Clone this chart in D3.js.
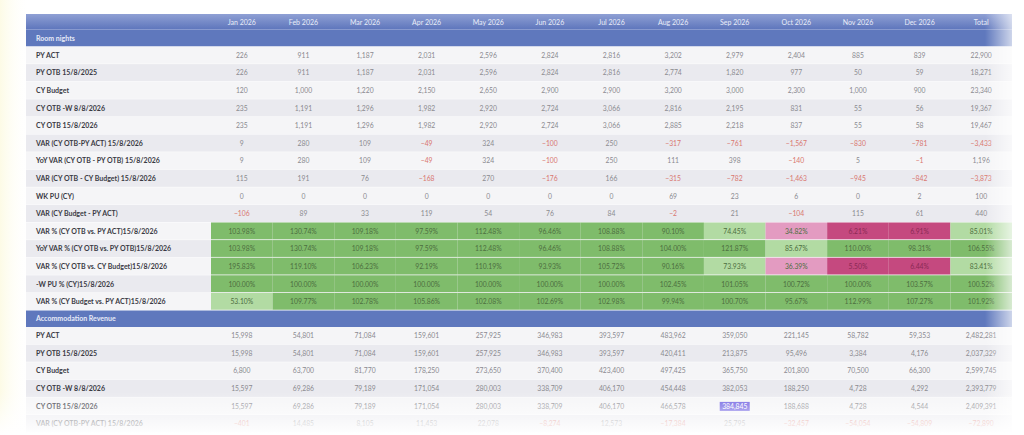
<!DOCTYPE html>
<html><head><meta charset="utf-8">
<script src="https://cdn.jsdelivr.net/npm/d3@7"></script>
<style>body{margin:0;background:#fff;}svg{display:block;font-family:Lato,"Noto Sans",sans-serif;}</style>
</head><body><svg id="c" width="1024" height="435"></svg>
<script>
const months = ["Jan 2026","Feb 2026","Mar 2026","Apr 2026","May 2026","Jun 2026","Jul 2026","Aug 2026","Sep 2026","Oct 2026","Nov 2026","Dec 2026","Total"];
const sections = ["Room nights","Accommodation Revenue"];
const roomLabels = ["PY ACT","PY OTB 15/8/2025","CY Budget","CY OTB -W 8/8/2026","CY OTB 15/8/2026","VAR (CY OTB-PY ACT) 15/8/2026","YoY VAR (CY OTB - PY OTB) 15/8/2026","VAR (CY OTB - CY Budget) 15/8/2026","WK PU (CY)","VAR (CY Budget - PY ACT)"];
const roomValues = [
 [226,911,1187,2031,2596,2824,2816,3202,2979,2404,885,839,22900],
 [226,911,1187,2031,2596,2824,2816,2774,1820,977,50,59,18271],
 [120,1000,1220,2150,2650,2900,2900,3200,3000,2300,1000,900,23340],
 [235,1191,1296,1982,2920,2724,3066,2816,2195,831,55,56,19367],
 [235,1191,1296,1982,2920,2724,3066,2885,2218,837,55,58,19467],
 [9,280,109,-49,324,-100,250,-317,-761,-1567,-830,-781,-3433],
 [9,280,109,-49,324,-100,250,111,398,-140,5,-1,1196],
 [115,191,76,-168,270,-176,166,-315,-782,-1463,-945,-842,-3873],
 [0,0,0,0,0,0,0,69,23,6,0,2,100],
 [-106,89,33,119,54,76,84,-2,21,-104,115,61,440]
];
const pctLabels = ["VAR % (CY OTB vs. PY ACT)15/8/2026","YoY VAR % (CY OTB vs. PY OTB)15/8/2026","VAR % (CY OTB vs. CY Budget)15/8/2026","-W PU % (CY)15/8/2026","VAR % (CY Budget vs. PY ACT)15/8/2026"];
const pctValues = [
 [103.98,130.74,109.18,97.59,112.48,96.46,108.88,90.10,74.45,34.82,6.21,6.91,85.01],
 [103.98,130.74,109.18,97.59,112.48,96.46,108.88,104.00,121.87,85.67,110.00,98.31,106.55],
 [195.83,119.10,106.23,92.19,110.19,93.93,105.72,90.16,73.93,36.39,5.50,6.44,83.41],
 [100,100,100,100,100,100,100,102.45,101.05,100.72,100,103.57,100.52],
 [53.10,109.77,102.78,105.86,102.08,102.69,102.98,99.94,100.70,95.67,112.99,107.27,101.92]
];
const revLabels = ["PY ACT","PY OTB 15/8/2025","CY Budget","CY OTB -W 8/8/2026","CY OTB 15/8/2026","VAR (CY OTB-PY ACT) 15/8/2026"];
const revValues = [
 [15998,54801,71084,159601,257925,346983,393597,483962,359050,221145,58782,59353,2482281],
 [15998,54801,71084,159601,257925,346983,393597,420411,213875,95496,3384,4176,2037329],
 [6800,63700,81770,178250,273650,370400,423400,497425,365750,201800,70500,66300,2599745],
 [15597,69286,79189,171054,280003,338709,406170,454448,382053,188250,4728,4292,2393779],
 [15597,69286,79189,171054,280003,338709,406170,466578,384845,188688,4728,4544,2409391],
 [-401,14485,8105,11453,22078,-8274,12573,-17384,25795,-32457,-54054,-54809,-72890]
];

const svg = d3.select("#c");
const defs = svg.append("defs");
const hg = defs.append("linearGradient").attr("id","hg").attr("x1",0).attr("y1",0).attr("x2",0).attr("y2",1);
hg.append("stop").attr("offset",0).attr("stop-color","#8fa0d4");
hg.append("stop").attr("offset",1).attr("stop-color","#5c74bb");
const fr = defs.append("linearGradient").attr("id","fr");
fr.append("stop").attr("offset",0).attr("stop-color","#fff").attr("stop-opacity",0);
fr.append("stop").attr("offset",1).attr("stop-color","#fff").attr("stop-opacity",1);
const fb = defs.append("linearGradient").attr("id","fb").attr("x1",0).attr("y1",0).attr("x2",0).attr("y2",1);
fb.append("stop").attr("offset",0).attr("stop-color","#fff").attr("stop-opacity",0);
fb.append("stop").attr("offset",1).attr("stop-color","#fff").attr("stop-opacity",1);
const fl = defs.append("linearGradient").attr("id","fl");
fl.append("stop").attr("offset",0).attr("stop-color","#fdfbe6").attr("stop-opacity",1);
fl.append("stop").attr("offset",1).attr("stop-color","#fff").attr("stop-opacity",0);
svg.append("rect").attr("x",0).attr("y",0).attr("width",30).attr("height",435).attr("fill","url(#fl)");

const left=26, labelW=185, right=1012;
const x = d3.scaleBand().domain(months).range([left+labelW, right]);
const rows=[];
rows.push({type:"head"});
rows.push({type:"sec",label:sections[0]});
roomLabels.forEach((l,i)=>rows.push({type:"num",label:l,vals:roomValues[i]}));
pctLabels.forEach((l,i)=>rows.push({type:"pct",label:l,vals:pctValues[i]}));
rows.push({type:"sec",label:sections[1]});
revLabels.forEach((l,i)=>rows.push({type:"num",label:l,vals:revValues[i]}));
const heights = rows.map(r=>r.type==="head"?16:(r.type==="sec"?16.5:17.6));
const tops=[]; let acc=14; heights.forEach(h=>{tops.push(acc);acc+=h;});
const y = d3.scaleOrdinal().domain(d3.range(rows.length)).range(tops);
const fmt = d3.format(",");
const pcol = v => v<20?"#c5497f":v<50?"#e39bc1":v<90?"#b2dba3":"#7fbc6b";

rows.forEach((r,i)=>{
  const g = svg.append("g").attr("transform",`translate(0,${y(i)})`);
  const h=heights[i];
  if(r.type==="head"){
    g.append("rect").attr("x",left).attr("width",right-left).attr("height",h).attr("fill","url(#hg)");
    g.selectAll("text").data(months).join("text").attr("x",d=>x(d)+x.bandwidth()/2).attr("y",h/2+2.5)
      .attr("text-anchor","middle").attr("font-size",7).attr("fill","#e8ecf8").text(d=>d);
    g.append("line").attr("x1",left).attr("x2",right).attr("y1",h).attr("y2",h).attr("stroke","#c9d2ee").attr("stroke-width",0.8);
    return;
  }
  if(r.type==="sec"){
    g.append("rect").attr("x",left).attr("width",right-left).attr("height",h).attr("fill","#5f78bd");
    g.append("text").attr("x",left+10).attr("y",h/2+2.5).attr("font-size",7).attr("font-weight","bold").attr("fill","#e6eaf7").text(r.label);
    return;
  }
  const bg = i%2===0?"#f5f5f7":"#eaeaef";
  g.append("rect").attr("x",left).attr("width",right-left).attr("height",h).attr("fill",bg);
  g.append("line").attr("x1",left).attr("x2",right).attr("y1",h).attr("y2",h).attr("stroke","#fff").attr("stroke-width",0.8);
  g.append("text").attr("x",left+10).attr("y",h/2+2.5).attr("font-size",7).attr("font-weight","bold").attr("fill","#3a3a44").text(r.label);
  if(r.type==="pct"){
    g.selectAll("rect.c").data(r.vals).join("rect").attr("class","c").attr("x",(d,j)=>x(months[j])).attr("width",x.bandwidth())
      .attr("height",h-0.8).attr("fill",d=>pcol(d));
  }
  g.selectAll("text.v").data(r.vals).join("text").attr("class","v")
    .attr("x",(d,j)=>x(months[j])+x.bandwidth()/2).attr("y",h/2+2.5).attr("text-anchor","middle").attr("font-size",6.8)
    .attr("fill",d=>r.type==="pct"?(d<20?"#8a2a55":"#4d6e40"):(d<0?"#d9776f":"#8a8a90"))
    .text(d=>r.type==="pct"?d.toFixed(2)+"%":fmt(d));
});
// highlighted selection cell
const hi = rows.length-2;
svg.append("rect").attr("x",x("Sep 2026")+x.bandwidth()/2-15).attr("y",y(hi)+4.5).attr("width",30).attr("height",9).attr("fill","#6a5be0");
svg.append("text").attr("x",x("Sep 2026")+x.bandwidth()/2).attr("y",y(hi)+heights[hi]/2+2.5).attr("text-anchor","middle").attr("font-size",6.8).attr("fill","#fff").text(fmt(revValues[4][8]));
// fades
svg.append("rect").attr("x",985).attr("y",0).attr("width",39).attr("height",435).attr("fill","url(#fr)");
svg.append("rect").attr("x",0).attr("y",392).attr("width",1024).attr("height",43).attr("fill","url(#fb)");
</script></body></html>
